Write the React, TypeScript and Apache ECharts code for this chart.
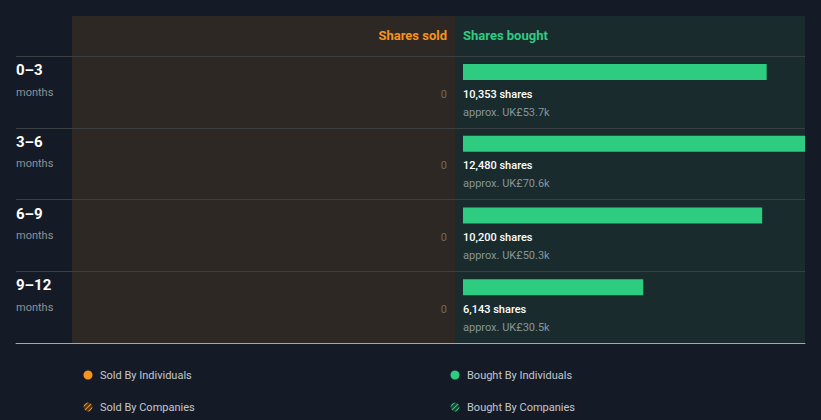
import React, { useEffect, useRef } from "react";
import * as echarts from "echarts";

const periods = ["0–3", "3–6", "6–9", "9–12"];
const periodUnit = "months";
const soldShares = [0, 0, 0, 0];
const boughtShares = [10353, 12480, 10200, 6143];
const boughtValueK = [53.7, 70.6, 50.3, 30.5];
const legendSold = ["Sold By Individuals", "Sold By Companies"];
const legendBought = ["Bought By Individuals", "Bought By Companies"];

const BG = "#151b26";
const SOLD_BG = "#2d2823";
const BOUGHT_BG = "#192b2d";
const ORANGE = "#f7931e";
const GREEN = "#2ecc81";
const FONT = "Roboto, 'Noto Sans', sans-serif";

const fmt = (v: number) => v.toLocaleString("en-US");

export default function App() {
  const ref = useRef<HTMLDivElement>(null);
  useEffect(() => {
    if (!ref.current) return;
    const chart = echarts.init(ref.current, undefined, { renderer: "svg" });
    const idxData = periods.map((_, i) => i);

    const legendEls: any[] = [];
    const legendRow = (names: string[], cx: number, color: string, darkFill: string) => {
      names.forEach((n, j) => {
        const cy = 375 + j * 32;
        if (j === 0) {
          legendEls.push({ type: "circle", shape: { cx, cy, r: 4.5 }, style: { fill: color } });
        } else {
          legendEls.push({ type: "circle", shape: { cx, cy, r: 4.5 }, style: { fill: darkFill } });
          [-2.5, 0, 2.5].forEach((o) => {
            const a = 3.2;
            legendEls.push({
              type: "line",
              shape: { x1: cx - a + o, y1: cy + a + o, x2: cx + a + o, y2: cy - a + o },
              style: { stroke: color, lineWidth: 1.1 },
            });
          });
          legendEls.push({ type: "circle", shape: { cx, cy, r: 6 }, style: { fill: "none", stroke: BG, lineWidth: 3 } });
        }
        legendEls.push({
          type: "text",
          x: cx + 12,
          y: cy,
          style: { text: n, fill: "#c4c8cc", font: `11px ${FONT}`, verticalAlign: "middle" },
        });
      });
    };
    legendRow(legendSold, 88, ORANGE, "#4a3420");
    legendRow(legendBought, 455, GREEN, "#1d4034");

    const option: any = {
      animation: false,
      backgroundColor: BG,
      graphic: [
        { type: "rect", z: -10, shape: { x: 72, y: 16, width: 383, height: 327 }, style: { fill: SOLD_BG } },
        { type: "rect", z: -10, shape: { x: 455, y: 16, width: 350, height: 327 }, style: { fill: BOUGHT_BG } },
        {
          type: "text", x: 447, y: 35,
          style: { text: "Shares sold", fill: ORANGE, font: `bold 13px ${FONT}`, textAlign: "right", verticalAlign: "middle" },
        },
        {
          type: "text", x: 463, y: 35,
          style: { text: "Shares bought", fill: GREEN, font: `bold 13px ${FONT}`, textAlign: "left", verticalAlign: "middle" },
        },
        ...legendEls,
      ],
      grid: [
        { left: 16, top: 56, width: 789, height: 287 },
        { left: 463, top: 56, width: 342, height: 287 },
        { left: 72, top: 56, width: 375, height: 287 },
      ],
      xAxis: [
        {
          gridIndex: 0, type: "value", min: 0, max: 1,
          axisLine: { show: true, onZero: false, lineStyle: { color: "#a3a8ad", width: 1 } },
          axisTick: { show: false }, axisLabel: { show: false }, splitLine: { show: false },
        },
        { gridIndex: 1, type: "value", min: 0, max: 11660, show: false },
        { gridIndex: 2, type: "value", min: 0, max: 10, inverse: true, show: false },
      ],
      yAxis: [
        {
          gridIndex: 0, type: "category", data: periods, inverse: true,
          axisLine: { show: false }, axisTick: { show: false }, axisLabel: { show: false },
          splitLine: { show: true, interval: 0, lineStyle: { color: "#3a3f42", width: 1 } },
        },
        { gridIndex: 1, type: "category", data: periods, inverse: true, show: false },
        { gridIndex: 2, type: "category", data: periods, inverse: true, show: false },
      ],
      series: [
        {
          type: "custom", name: "Periods", xAxisIndex: 0, yAxisIndex: 0,
          data: idxData.map((i) => [0, i]),
          encode: { x: 0, y: 1 },
          renderItem: (params: any, api: any) => {
            const i = api.value(1);
            const c = api.coord([0, i]);
            const band = api.size([0, 1])[1];
            const top = c[1] - band / 2;
            return {
              type: "group",
              children: [
                {
                  type: "text", x: params.coordSys.x, y: top + 14,
                  style: { text: periods[i], fill: "#ffffff", font: `bold 15px ${FONT}`, verticalAlign: "middle" },
                },
                {
                  type: "text", x: params.coordSys.x, y: top + 36,
                  style: { text: periodUnit, fill: "#8d9299", font: `11px ${FONT}`, verticalAlign: "middle" },
                },
              ],
            };
          },
        },
        {
          type: "custom", name: "Bought By Individuals", xAxisIndex: 1, yAxisIndex: 1,
          data: boughtShares.map((v, i) => [v, i]),
          encode: { x: 0, y: 1 },
          renderItem: (params: any, api: any) => {
            const i = api.value(1);
            const v = api.value(0);
            const s = api.coord([0, i]);
            const e = api.coord([v, i]);
            const band = api.size([0, 1])[1];
            const top = s[1] - band / 2;
            const cs = params.coordSys;
            const right = Math.min(e[0], cs.x + cs.width);
            return {
              type: "group",
              children: [
                { type: "rect", shape: { x: s[0], y: top + 8, width: right - s[0], height: 16 }, style: { fill: GREEN } },
                {
                  type: "text", x: s[0], y: top + 38,
                  style: { text: `${fmt(v)} shares`, fill: "#ffffff", font: `500 11px ${FONT}`, verticalAlign: "middle" },
                },
                {
                  type: "text", x: s[0], y: top + 56,
                  style: { text: `approx. UK£${boughtValueK[i]}k`, fill: "#87959a", font: `11px ${FONT}`, verticalAlign: "middle" },
                },
              ],
            };
          },
        },
        {
          type: "custom", name: "Sold By Individuals", xAxisIndex: 2, yAxisIndex: 2,
          data: soldShares.map((v, i) => [v, i]),
          encode: { x: 0, y: 1 },
          renderItem: (params: any, api: any) => {
            const i = api.value(1);
            const v = api.value(0);
            const s = api.coord([v, i]);
            const band = api.size([0, 1])[1];
            const top = s[1] - band / 2;
            return {
              type: "text", x: s[0], y: top + 38,
              style: { text: fmt(v), fill: "#6e6a66", font: `11px ${FONT}`, textAlign: "right", verticalAlign: "middle" },
            };
          },
        },
      ],
    };
    chart.setOption(option);
    return () => chart.dispose();
  }, []);
  return <div ref={ref} style={{ position: "fixed", left: 0, top: 0, width: 821, height: 420 }} />;
}
